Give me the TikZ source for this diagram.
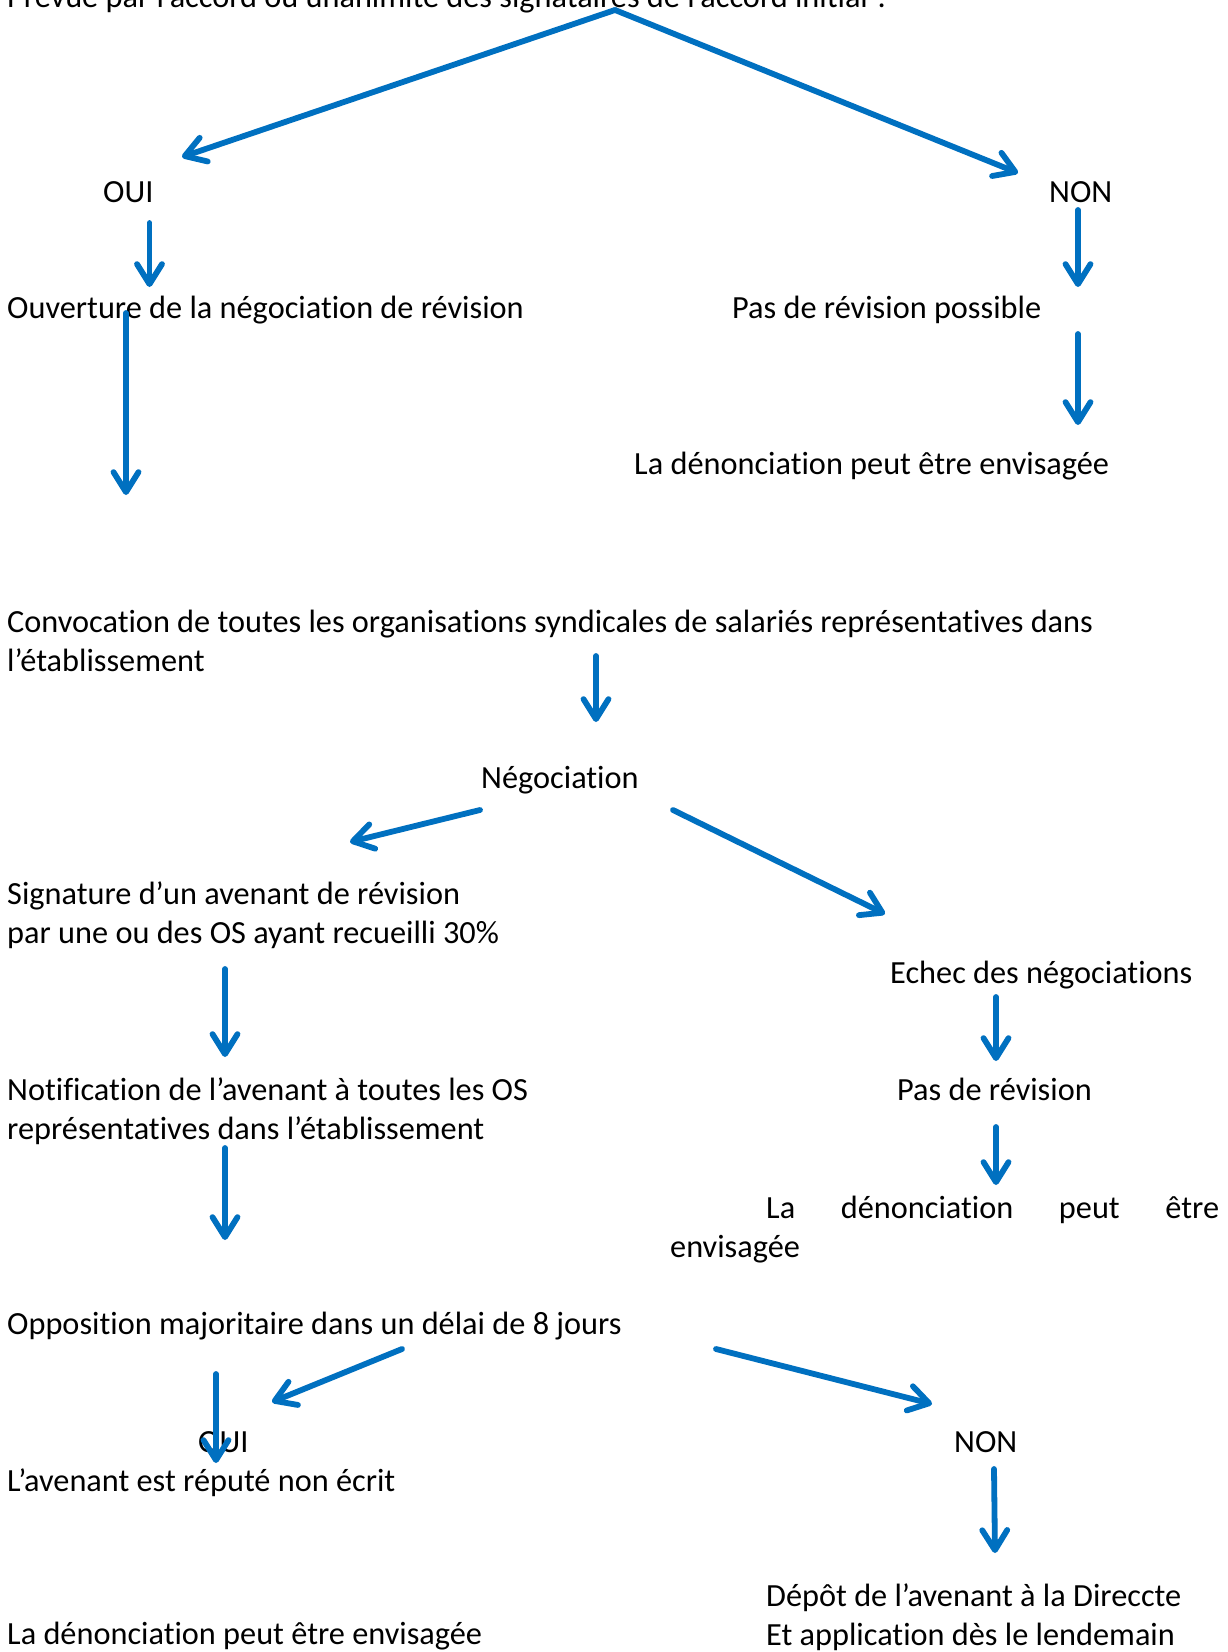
\documentclass[tikz,border=0pt]{standalone}
\usepackage{fontspec}
\setmainfont{Carlito}[Ligatures=NoCommon]
\usetikzlibrary{arrows.meta}
\definecolor{wblue}{RGB}{0,112,192}
\newcommand\twolines[2]{\vtop{\hbox{#1}\hbox{#2}}}
\tikzset{
  txt/.style={anchor=base west, inner sep=0pt, yshift=-2pt, font=\fontsize{32.3}{39}\selectfont},
  arr/.style={draw=wblue, line width=5.8pt, line cap=round,
    -{Straight Barb[length=20pt,width=25pt,line cap=round,line join=round]}},
}
\begin{document}
\begin{tikzpicture}[x=1pt,y=-1pt]
\fill[white] (0,0) rectangle (1227,1652);
\useasboundingbox (0,0) rectangle (1227,1652);

% texts
\node[txt] (top) at (7,5) {Prévue par l’accord ou unanimité des signataires de l’accord initial ?};
\node[txt] (oui1) at (103,200) {OUI};
\node[txt] (non1) at (1049,200) {NON};
\node[txt] (ouv) at (7,316.5) {Ouverture de la négociation de révision};
\node[txt] (pasrev) at (732,316.5) {Pas de révision possible};
\node[txt] (denon1) at (634,472) {La dénonciation peut être envisagée};
\node[txt] (convoc) at (7,630) {\twolines{Convocation de toutes les organisations syndicales de salariés représentatives dans}{l’établissement}};
\node[txt] (nego) at (481,786) {Négociation};
\node[txt] (sign) at (7,902) {\twolines{Signature d’un avenant de révision}{par une ou des OS ayant recueilli 30\%}};
\node[txt] (echec) at (890,981) {Echec des négociations};
\node[txt] (notif) at (7,1098) {\twolines{Notification de l’avenant à toutes les OS}{représentatives dans l’établissement}};
\node[txt] (pasrev2) at (897,1098) {Pas de révision};
\node[txt] (denon2a) at (766,1216) {\hbox to 453pt{La\hfill dénonciation\hfill peut\hfill être}};
\node[txt] (denon2b) at (670,1255) {envisagée};
\node[txt] (oppo) at (7,1332) {Opposition majoritaire dans un délai de 8 jours};
\node[txt] (oui2) at (198,1450) {OUI};
\node[txt] (avenant) at (7,1489) {L’avenant est réputé non écrit};
\node[txt] (non2) at (954,1450) {NON};
\node[txt] (depot) at (766,1604.5) {\twolines{Dépôt de l’avenant à la Direccte}{Et application dès le lendemain}};
\node[txt] (denon3) at (7,1642.5) {La dénonciation peut être envisagée};

% connector end points
\coordinate (apex) at (615,10);
\coordinate (a1e) at (182,157);
\coordinate (a2e) at (1018,173);
\coordinate (a3s) at (149.5,223);  \coordinate (a3e) at (149.5,287);
\coordinate (a4s) at (1078,210);   \coordinate (a4e) at (1078,287);
\coordinate (a5s) at (126,313);    \coordinate (a5e) at (126,495);
\coordinate (a6s) at (1078,334);   \coordinate (a6e) at (1078,425);
\coordinate (a7s) at (596,656);    \coordinate (a7e) at (596,722);
\coordinate (a8s) at (480,810);    \coordinate (a8e) at (350,842);
\coordinate (a9s) at (673,810);    \coordinate (a9e) at (885,914);
\coordinate (a10s) at (225,969);   \coordinate (a10e) at (225,1057);
\coordinate (a11s) at (996,997);   \coordinate (a11e) at (996,1061);
\coordinate (a12s) at (225,1148);  \coordinate (a12e) at (225,1240);
\coordinate (a13s) at (996,1127);  \coordinate (a13e) at (996,1185);
\coordinate (a14s) at (402,1349);  \coordinate (a14e) at (272,1402);
\coordinate (a15s) at (216,1374);  \coordinate (a15e) at (216,1463);
\coordinate (a16s) at (716,1349);  \coordinate (a16e) at (932,1404);
\coordinate (a17s) at (994,1469);  \coordinate (a17e) at (995,1553);

% connectors
\draw[arr] (apex) -- (a1e);
\draw[arr] (apex) -- (a2e);
\draw[arr] (a3s) -- (a3e);
\draw[arr] (a4s) -- (a4e);
\draw[arr] (a5s) -- (a5e);
\draw[arr] (a6s) -- (a6e);
\draw[arr] (a7s) -- (a7e);
\draw[arr] (a8s) -- (a8e);
\draw[arr] (a9s) -- (a9e);
\draw[arr] (a10s) -- (a10e);
\draw[arr] (a11s) -- (a11e);
\draw[arr] (a12s) -- (a12e);
\draw[arr] (a13s) -- (a13e);
\draw[arr] (a14s) -- (a14e);
\draw[arr] (a15s) -- (a15e);
\draw[arr] (a16s) -- (a16e);
\draw[arr] (a17s) -- (a17e);
\end{tikzpicture}
\end{document}
